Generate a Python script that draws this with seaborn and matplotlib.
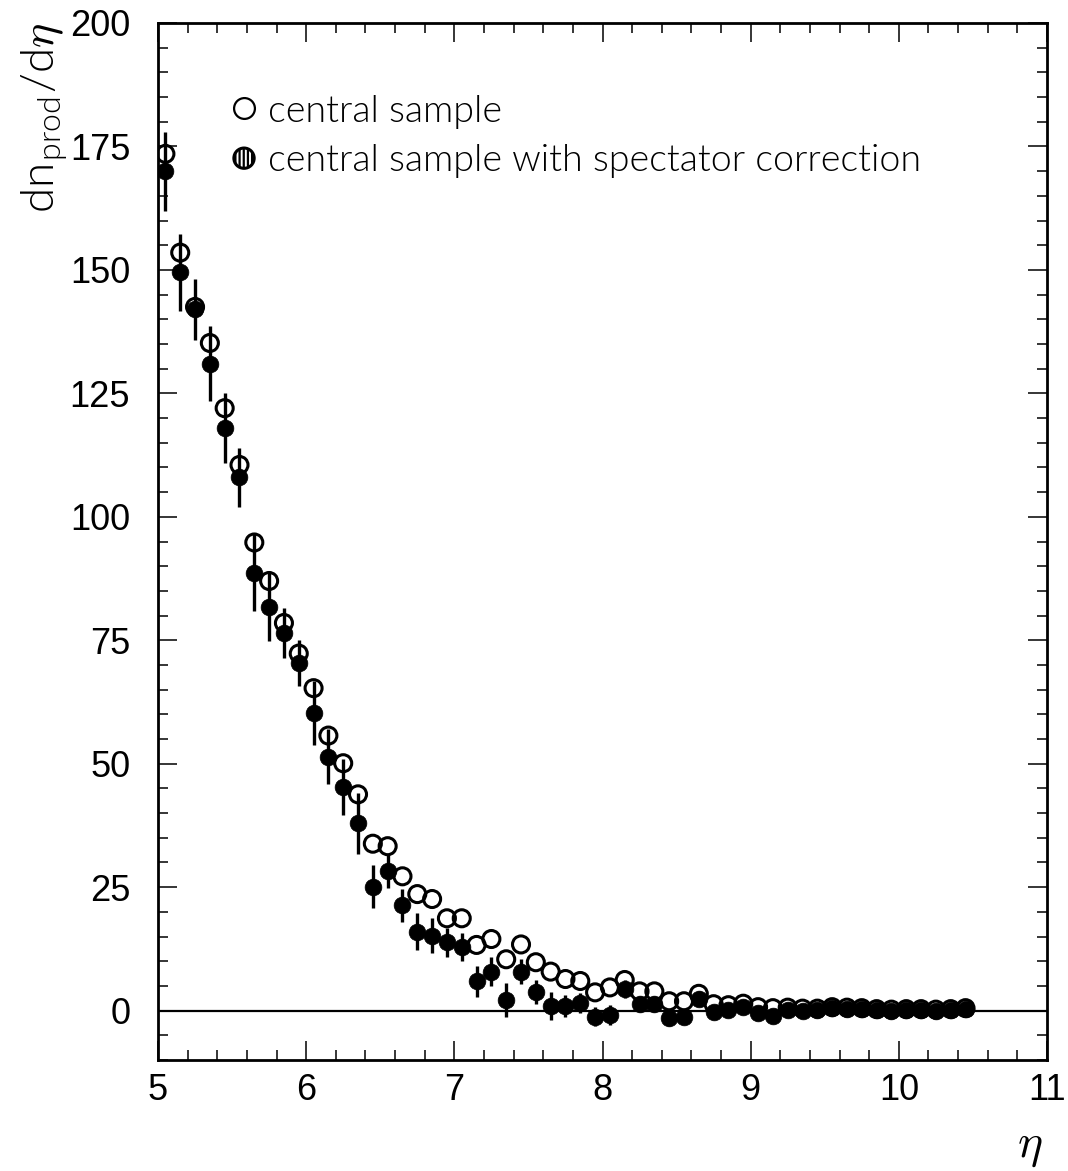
import numpy as np
import pandas as pd
import matplotlib
matplotlib.use("Agg")
import matplotlib.pyplot as plt
import matplotlib.patches as mpatches
from matplotlib.lines import Line2D
from matplotlib.legend_handler import HandlerBase
from matplotlib.ticker import MultipleLocator
import seaborn as sns

# ---------------- data ----------------
eta = [5.05, 5.15, 5.25, 5.35, 5.45, 5.55, 5.65, 5.75, 5.85, 5.95,
       6.05, 6.15, 6.25, 6.35, 6.45, 6.55, 6.65, 6.75, 6.85, 6.95,
       7.05, 7.15, 7.25, 7.35, 7.45, 7.55, 7.65, 7.75, 7.85, 7.95,
       8.05, 8.15, 8.25, 8.35, 8.45, 8.55, 8.65, 8.75, 8.85, 8.95,
       9.05, 9.15, 9.25, 9.35, 9.45, 9.55, 9.65, 9.75, 9.85, 9.95,
       10.05, 10.15, 10.25, 10.35, 10.45]

central = [173.5, 153.5, 142.5, 135.2, 122.0, 110.5, 94.8, 87.0, 78.5, 72.3,
           65.3, 55.7, 50.1, 43.8, 33.8, 33.3, 27.2, 23.6, 22.6, 18.7,
           18.7, 13.3, 14.5, 10.4, 13.4, 9.8, 7.9, 6.4, 6.0, 3.7,
           4.7, 6.2, 3.9, 3.9, 1.9, 1.9, 3.4, 1.3, 1.1, 1.4,
           0.7, 0.5, 0.6, 0.4, 0.4, 0.7, 0.6, 0.5, 0.3, 0.2,
           0.3, 0.3, 0.2, 0.3, 0.5]

corrected = [170.0, 149.5, 142.0, 131.0, 118.0, 108.0, 88.7, 81.8, 76.5, 70.4,
             60.3, 51.4, 45.3, 37.9, 25.1, 28.3, 21.3, 16.0, 15.2, 13.8,
             12.9, 5.9, 7.9, 2.2, 7.9, 3.8, 1.0, 0.9, 1.6, -1.2,
             -0.9, 4.4, 1.4, 1.4, -1.4, -1.2, 2.4, -0.2, 0.2, 0.8,
             -0.4, -1.0, 0.2, 0.0, 0.1, 0.5, 0.4, 0.3, 0.1, -0.1,
             0.1, 0.1, -0.1, 0.1, 0.3]

corrected_err = [8.0, 7.8, 6.1, 7.6, 7.1, 6.0, 7.8, 7.0, 5.0, 4.7,
                 6.5, 5.6, 5.6, 6.2, 4.4, 3.5, 3.4, 3.8, 3.5, 2.9,
                 2.9, 3.2, 2.9, 3.4, 2.5, 2.4, 2.8, 2.2, 2.0, 2.0,
                 2.0, 1.8, 1.6, 1.6, 1.8, 1.5, 1.5, 1.2, 1.0, 1.0,
                 1.0, 0.9, 0.9, 0.8, 0.8, 0.8, 0.7, 0.7, 0.7, 0.6,
                 0.6, 0.6, 0.5, 0.5, 0.5]

x_ticks = [5, 6, 7, 8, 9, 10, 11]
y_ticks = [0, 25, 50, 75, 100, 125, 150, 175, 200]
label_open = "central sample"
label_filled = "central sample with spectator correction"

# ---------------- style ----------------
sns.set_theme(style="ticks")
plt.rcParams["font.family"] = ["Lato", "DejaVu Sans"]
plt.rcParams["hatch.linewidth"] = 1.6
plt.rcParams["mathtext.fontset"] = "cm"

df = pd.DataFrame({"eta": eta, "central": central, "corrected": corrected,
                   "err": corrected_err})

fig = plt.figure(figsize=(10.68, 11.71), dpi=100)
ax = fig.add_axes([158 / 1068, 1 - 1060 / 1171, 889 / 1068, 1037 / 1171])

ax.axhline(0, color="black", lw=1.6, zorder=1)

# open circles (central sample)
sns.scatterplot(data=df, x="eta", y="central", ax=ax, marker="o", s=150,
                facecolor="none", edgecolor="black", linewidth=2.2,
                zorder=3, legend=False)
# error bars of corrected sample
ax.errorbar(df["eta"], df["corrected"], yerr=df["err"], fmt="none",
            ecolor="black", elinewidth=2.4, capsize=0, zorder=4)
# filled circles (corrected)
sns.scatterplot(data=df, x="eta", y="corrected", ax=ax, marker="o", s=145,
                color="black", edgecolor="black", linewidth=0.5,
                zorder=5, legend=False)

ax.set_xlim(5, 11)
ax.set_ylim(-10, 200)
ax.set_xticks(x_ticks)
ax.set_yticks(y_ticks)
ax.xaxis.set_minor_locator(MultipleLocator(0.2))
ax.yaxis.set_minor_locator(MultipleLocator(5))
ax.tick_params(which="both", direction="in", top=True, right=True,
               color="black", labelcolor="black")
ax.tick_params(which="major", length=14, width=1.1)
ax.tick_params(which="minor", length=7, width=1.1)
ax.tick_params(axis="x", which="major", pad=9)
ax.tick_params(axis="y", which="major", pad=20)
for lab in ax.get_xticklabels() + ax.get_yticklabels():
    lab.set_fontfamily("Liberation Sans")
    lab.set_fontsize(26)
for sp in ax.spines.values():
    sp.set_linewidth(2.0)
    sp.set_color("black")
ax.set_xlabel("")
ax.set_ylabel("")


# legend
class HandlerHatchCircle(HandlerBase):
    def create_artists(self, legend, orig_handle, xdescent, ydescent,
                       width, height, fontsize, trans):
        c = mpatches.Circle((width / 2 - xdescent, height / 2 - ydescent),
                            radius=7.3, facecolor="white", edgecolor="black",
                            hatch="||||", lw=2.2, transform=trans)
        return [c]


h_open = Line2D([], [], marker="o", ls="none", mfc="none", mec="black",
                ms=15, mew=1.6)
h_fill = mpatches.Circle((0, 0), 1)
leg = ax.legend([h_open, h_fill], [label_open, label_filled],
                handler_map={mpatches.Circle: HandlerHatchCircle()},
                loc="upper left", bbox_to_anchor=(0.082, 0.931),
                frameon=False, prop={"size": 27, "weight": 300},
                handlelength=0.7, handletextpad=0.3, labelspacing=0.42,
                borderpad=0, borderaxespad=0)
for t in leg.get_texts():
    t.set_color("black")

# axis titles
fig.text(45 / 1068, 1 - 118 / 1171, r"dn$_\mathregular{prod}$/d$\eta$",
         rotation=90, ha="center", va="center", fontsize=33,
         fontweight=300, color="black", fontfamily=["Lato", "DejaVu Sans"])
fig.text(1030 / 1068, 1 - 1148 / 1171, r"$\eta$", ha="center",
         va="center", fontsize=34, color="black")

fig.savefig("out.png", dpi=100, facecolor="white")
